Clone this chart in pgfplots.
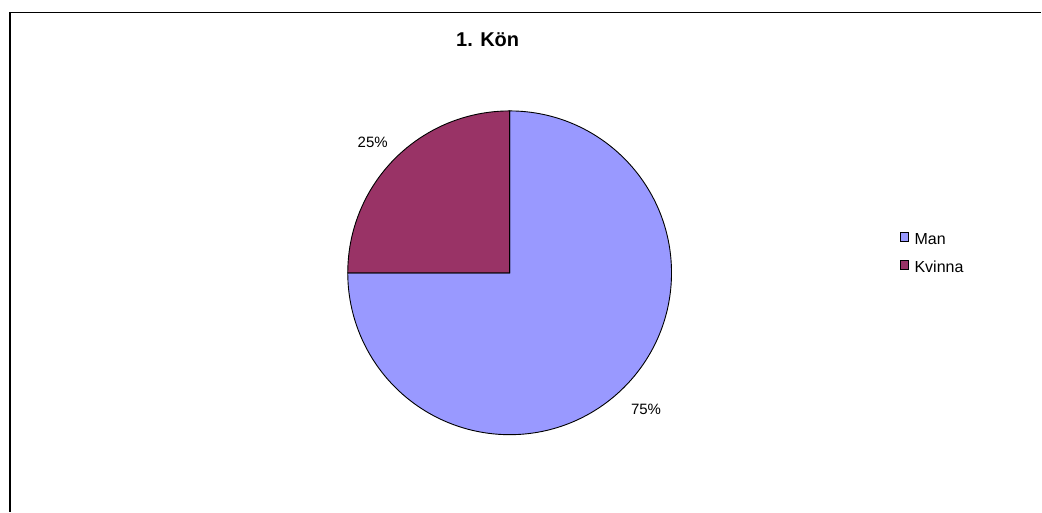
\documentclass[border=0pt]{standalone}
\usepackage{pgfplots}
\usepackage{pgfplotstable}
\pgfplotsset{compat=1.18}
\usepackage{fontspec}
\setmainfont{Liberation Sans}
\definecolor{manc}{HTML}{9999FF}
\definecolor{kvic}{HTML}{993366}
\pgfplotstableread{
label value
Man 75
Kvinna 25
}\pietab
\begin{document}
\begin{tikzpicture}
\pgfplotstablegetelem{0}{value}\of\pietab \let\vMan\pgfplotsretval
\pgfplotstablegetelem{1}{value}\of\pietab \let\vKvi\pgfplotsretval
\pgfmathsetmacro\endMan{90-3.6*\vMan}
\pgfmathsetmacro\startKvi{\endMan+360}
\pgfmathsetmacro\endKvi{\startKvi-3.6*\vKvi}
\begin{axis}[hide axis, scale only axis, width=1042pt, height=512pt,
  xmin=0, xmax=1042, ymin=0, ymax=512, y dir=reverse, clip=false,
  axis line style={draw=none}]
\path (axis cs:0,0) rectangle (axis cs:1042,512);
% frame
\draw[line width=1.5pt] (axis cs:10,512) -- (axis cs:10,12.5) -- (axis cs:1042,12.5);
% pie
\filldraw[fill=manc, draw=black, line width=0.9pt] (axis cs:510,273) -- ++(90:162pt)
  arc[start angle=90, end angle=\endMan, radius=162pt] -- cycle;
\filldraw[fill=kvic, draw=black, line width=0.9pt] (axis cs:510,273) -- ++(\startKvi:162pt)
  arc[start angle=\startKvi, end angle=\endKvi, radius=162pt] -- cycle;
% labels
\node[anchor=base, inner sep=0pt, font=\fontsize{15}{17}\selectfont] at (axis cs:373,147.3) {25\%};
\node[anchor=base, inner sep=0pt, font=\fontsize{15}{17}\selectfont] at (axis cs:646.5,414.3) {75\%};
% title
\node[anchor=base, inner sep=0pt, font=\fontsize{20}{22}\selectfont\bfseries] at (axis cs:488,46.7) {1. Kön};
% legend
\draw[fill=manc, line width=0.7pt] (axis cs:900.5,233) rectangle (axis cs:908.5,241.5);
\draw[fill=kvic, line width=0.7pt] (axis cs:900.5,261) rectangle (axis cs:908.5,269.5);
\node[anchor=base west, inner sep=0pt, font=\fontsize{16}{18}\selectfont] at (axis cs:915,245) {Man};
\node[anchor=base west, inner sep=0pt, font=\fontsize{16}{18}\selectfont] at (axis cs:915,272.3) {Kvinna};
\end{axis}
\end{tikzpicture}
\end{document}
